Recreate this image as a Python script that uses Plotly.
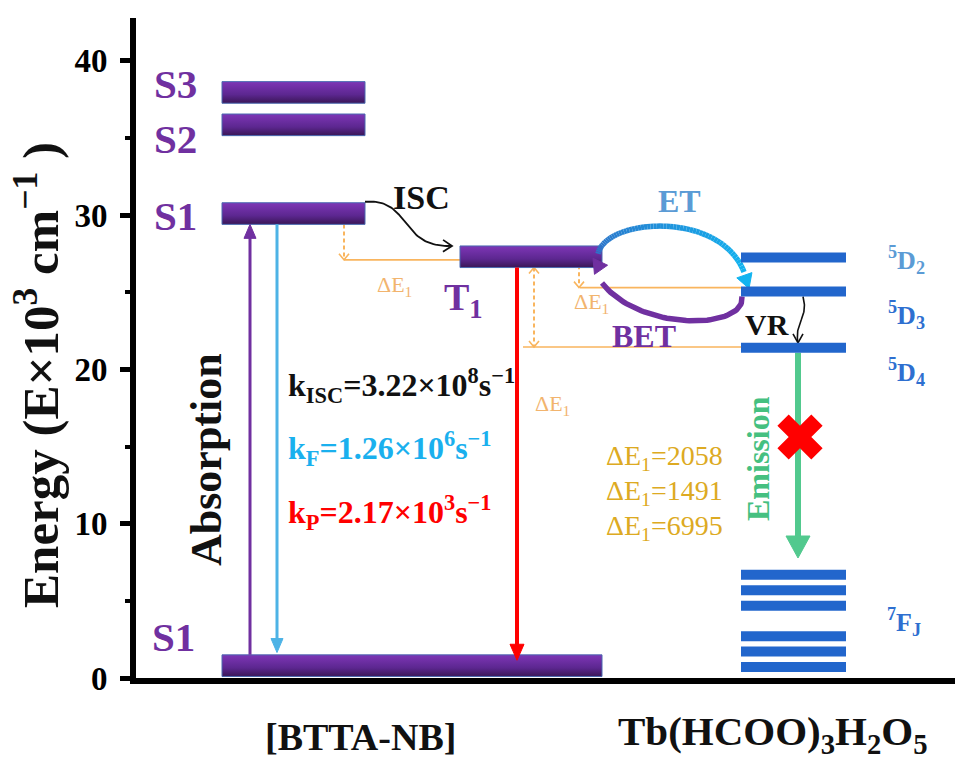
import numpy as np
import plotly.graph_objects as go

# ---------------- data ----------------
ligand_states = ["S3", "S2", "S1", "T1", "S0"]
ligand_energy = [37.95, 35.85, 30.1, 27.3, 0.8]          # x10^3 cm^-1
tb_states = ["5D2", "5D3", "5D4"]
tb_energy = [27.25, 25.05, 21.4]
tb_7fj_energy = [6.69, 5.68, 4.68, 2.70, 1.72, 0.71]
delta_e_values = [2058, 1491, 6995]
rate_names = ["ISC", "F", "P"]
rate_values = ["3.22", "1.26", "2.17"]
rate_exps = ["8", "6", "3"]
y_ticks = [0, 10, 20, 30, 40]
compound_names = ["[BTTA-NB]", "Tb(HCOO)<sub>3</sub>H<sub>2</sub>O<sub>5</sub>"]

# ---------------- layout constants ----------------
W, H = 955, 760
ML, MR, MT, MB = 136, 0, 18, 82
PX = 15.43                       # pixels per 10^3 cm^-1
Y0 = H - MB                      # pixel row of E = 0
YMAX = (H - MT - MB) / PX
FONT = "Liberation Serif, Times New Roman, Tinos, serif"
PURPLE = "#7030A0"
BLUE = "#2266CC"
ORANGE = "#F9B55E"
LIG_H = 1.4
TB_H = 0.65

E = dict(zip(ligand_states, ligand_energy))
T = dict(zip(tb_states, tb_energy))


def e_of(py):
    return (Y0 - py) / PX


def py_of(e):
    return Y0 - e * PX


fig = go.Figure()
shapes = []
ann = []


def line(xs, es, color, width, dash=None):
    fig.add_trace(go.Scatter(x=xs, y=es, mode="lines", hoverinfo="skip", showlegend=False,
                             line=dict(color=color, width=width, dash=dash)))


def chevron(tx, tpy, dx, dy, color, L=7, Wd=5, width=1.6):
    n = np.hypot(dx, dy); dx, dy = dx / n, dy / n
    nx, ny = -dy, dx
    xs = [tx - L * dx + Wd * nx, tx, tx - L * dx - Wd * nx]
    ys = [tpy - L * dy + Wd * ny, tpy, tpy - L * dy - Wd * ny]
    line(xs, [e_of(v) for v in ys], color, width)


def tri(tx, tpy, dx, dy, color, L=12, Wd=6):
    n = np.hypot(dx, dy); dx, dy = dx / n, dy / n
    nx, ny = -dy, dx
    xs = [tx, tx - L * dx + Wd * nx, tx - L * dx - Wd * nx, tx]
    ys = [tpy, tpy - L * dy + Wd * ny, tpy - L * dy - Wd * ny, tpy]
    fig.add_trace(go.Scatter(x=xs, y=[e_of(v) for v in ys], mode="lines", fill="toself",
                             fillcolor=color, line=dict(color=color, width=1),
                             hoverinfo="skip", showlegend=False))


def bezier(p0, p1, p2, p3, n=60):
    t = np.linspace(0, 1, n)[:, None]
    p0, p1, p2, p3 = map(np.array, (p0, p1, p2, p3))
    return ((1 - t) ** 3) * p0 + 3 * ((1 - t) ** 2) * t * p1 + 3 * (1 - t) * t * t * p2 + (t ** 3) * p3


def purple_bar(x0, x1, e, h):
    fig.add_trace(go.Scatter(
        x=[x0, x1, x1, x0, x0], y=[e - h / 2, e - h / 2, e + h / 2, e + h / 2, e - h / 2],
        mode="lines", fill="toself", hoverinfo="skip", showlegend=False,
        line=dict(color="#4A68B0", width=1),
        fillgradient=dict(type="vertical",
                          colorscale=[[0, "#3A1656"], [0.4, "#5C2790"], [1, "#7E36B6"]])))


def blue_bar(x0, x1, e, h):
    shapes.append(dict(type="rect", xref="x", yref="y", x0=x0, x1=x1, y0=e - h / 2, y1=e + h / 2,
                       fillcolor=BLUE, line=dict(width=0), layer="above"))


PW = W - ML - MR
PH = H - MT - MB


def text(x, py, s, size, color, bold=True, angle=0, xanchor="center"):
    ann.append(dict(x=(x - ML) / PW, y=(Y0 - py) / PH, xref="paper", yref="paper",
                    text=(f"<b>{s}</b>" if bold else s),
                    showarrow=False, textangle=angle, xanchor=xanchor, yanchor="middle",
                    font=dict(family=FONT, size=size, color=color)))


# ---------------- orange energy-gap guides ----------------
gap1_line = E["T1"] - 0.2
line([344, 462], [gap1_line, gap1_line], ORANGE, 1.6)
line([580, 741], [T["5D3"] + 0.25, T["5D3"] + 0.25], ORANGE, 1.6)
line([523, 741], [T["5D4"] + 0.05, T["5D4"] + 0.05], ORANGE, 1.6)


def dashed_double(x, e_top, e_bot):
    line([x, x], [e_top, e_bot], ORANGE, 2, dash="4px,3px")
    chevron(x, py_of(e_top), 0, -1, ORANGE, L=6, Wd=5)
    chevron(x, py_of(e_bot), 0, 1, ORANGE, L=6, Wd=5)


dashed_double(344, E["S1"] + 0.2, gap1_line)
dashed_double(579, E["T1"] + 0.35, T["5D3"] + 0.25)
dashed_double(534, E["T1"] - LIG_H / 2, T["5D4"] + 0.05)

# ---------------- levels ----------------
lig_x = {"S3": (222, 365), "S2": (222, 365), "S1": (222, 365), "T1": (460, 602), "S0": (222, 602)}
for s in ligand_states:
    purple_bar(lig_x[s][0], lig_x[s][1], E[s], LIG_H)
for e in tb_energy:
    blue_bar(741, 846, e, TB_H)
for e in tb_7fj_energy:
    blue_bar(741, 846, e, TB_H)

# ---------------- straight arrows ----------------
def v_arrow(x, e_from, e_to, color, width, L=12, Wd=6):
    p_from, p_to = py_of(e_from), py_of(e_to)
    d = 1 if p_to > p_from else -1
    line([x, x], [e_from, e_of(p_to - d * (L - 2))], color, width)
    tri(x, p_to, 0, d, color, L=L, Wd=Wd)


v_arrow(250, E["S0"] + LIG_H / 2, E["S1"] - LIG_H / 2, PURPLE, 3, L=14, Wd=6)
v_arrow(277, E["S1"] - LIG_H / 2, E["S0"] + LIG_H / 2 + 0.15, "#4DB3E6", 3, L=14, Wd=6)
v_arrow(517, E["T1"] - LIG_H / 2, E["S0"] + 0.35, "#FF0000", 4, L=16, Wd=7)
v_arrow(798, T["5D4"] - TB_H / 2, e_of(558), "#52C98E", 6, L=22, Wd=12)

# ---------------- curved arrows ----------------
# ISC
c = bezier((365, py_of(E["S1"] + LIG_H / 2) - 1), (412, 198), (398, 248), (452, py_of(E["T1"] + LIG_H / 2)))
line(c[:, 0], [e_of(v) for v in c[:, 1]], "#111111", 1.8)
chevron(c[-1, 0], c[-1, 1], c[-1, 0] - c[-4, 0], c[-1, 1] - c[-4, 1], "#111111", L=9, Wd=6, width=1.8)

# ET (gradient blue)
c = bezier((598, py_of(E["T1"] + 0.2)), (606, 218), (720, 210), (744, 272))
n = len(c) - 1
c0, c1 = np.array([0x2E, 0x72, 0xC8]), np.array([0x12, 0xB4, 0xF0])
for i in range(n):
    col = c0 + (c1 - c0) * i / (n - 1)
    line(c[i:i + 2, 0], [e_of(v) for v in c[i:i + 2, 1]],
         "rgb(%d,%d,%d)" % tuple(col), 5.5)
tri(749, py_of(T["5D3"] + TB_H / 2) + 2, 0.35, 1, "#12B4F0", L=14, Wd=8)

# BET (purple)
c = bezier((742, py_of(T["5D3"] - TB_H / 2)), (746, 330), (640, 332), (602, 283))
line(c[:, 0], [e_of(v) for v in c[:, 1]], PURPLE, 5.5)
tri(593, py_of(E["T1"] - 0.1), -0.7, -1, PURPLE, L=14, Wd=8)

# VR
c = bezier((803, py_of(T["5D3"] - TB_H / 2)), (809, 318), (794, 322), (798, py_of(T["5D4"] + TB_H / 2)))
line(c[:, 0], [e_of(v) for v in c[:, 1]], "#111111", 1.6)
chevron(798, py_of(T["5D4"] + TB_H / 2), 0, 1, "#111111", L=9, Wd=5, width=1.6)

# red cross on emission
fig.add_trace(go.Scatter(x=[800], y=[e_of(437)], mode="markers", hoverinfo="skip", showlegend=False,
                         marker=dict(symbol="x", size=40, color="#FF0000", line=dict(width=0))))

# ---------------- texts ----------------
text(175, 84, "S3", 41, PURPLE)
text(175, 139, "S2", 41, PURPLE)
text(175, 216, "S1", 41, PURPLE)
text(173, 637, "S1", 41, PURPLE)
text(463, 300, "T<sub>1</sub>", 38, PURPLE)
text(421, 197, "ISC", 34, "#111111")
text(394, 286, "ΔE<sub>1</sub>", 22, "#F2B46E", bold=False)
text(591, 303, "ΔE<sub>1</sub>", 22, "#F2B46E", bold=False)
text(552, 405, "ΔE<sub>1</sub>", 22, "#F2B46E", bold=False)
text(679, 201, "ET", 32, "#5B9BD5")
text(644, 336, "BET", 32, PURPLE)
text(767, 324, "VR", 30, "#111111")
text(906, 260, "<sup>5</sup>D<sub>2</sub>", 26, "#5B9BD5")
text(906, 315, "<sup>5</sup>D<sub>3</sub>", 26, "#2E6FD0")
text(906, 372, "<sup>5</sup>D<sub>4</sub>", 26, "#2E6FD0")
text(904, 622, "<sup>7</sup>F<sub>J</sub>", 26, "#2E6FD0")
for py, v in zip([457, 492, 527], delta_e_values):
    text(604, py, f"ΔE<sub>1</sub>={v}", 28, "#DDAA22", bold=False, xanchor="left")
rate_colors = ["#111111", "#1AB0EE", "#FF0000"]
for py, nm, v, ex, col in zip([385, 448, 512], rate_names, rate_values, rate_exps, rate_colors):
    text(286, py, f"k<sub>{nm}</sub>={v}×10<sup>{ex}</sup>s<sup>−1</sup>", 32, col, xanchor="left")
text(758, 459, "Emission", 32, "#45C080", angle=-90)
text(206, 460, "Absorption", 44, "#111111", angle=-90)
text(37, 375, "Energy (E×10<sup>3</sup> cm<sup>−1</sup> )", 51, "#111111", angle=-90)
text(360, 737, compound_names[0], 38, "#111111")
text(773, 734, compound_names[1], 41, "#111111")

fig.update_layout(
    width=W, height=H, margin=dict(l=ML, r=MR, t=MT, b=MB),
    paper_bgcolor="white", plot_bgcolor="white", showlegend=False,
    shapes=shapes, annotations=ann,
    xaxis=dict(range=[ML, W], showgrid=False, zeroline=False, showticklabels=False, ticks="",
               showline=True, linecolor="black", linewidth=6, fixedrange=True),
    yaxis=dict(range=[0, YMAX], showgrid=False, zeroline=False, tickvals=y_ticks,
               ticktext=[f"<b>{v}</b>" for v in y_ticks], ticks="outside", ticklen=10, tickwidth=5,
               tickcolor="black", showline=True, linecolor="black", linewidth=6,
               tickfont=dict(family=FONT, size=33, color="black"), ticklabelstandoff=6,
               minor=dict(dtick=5, tick0=0, ticks="outside", ticklen=5, tickwidth=4, tickcolor="black"),
               fixedrange=True),
)
fig.write_html("out.html")
